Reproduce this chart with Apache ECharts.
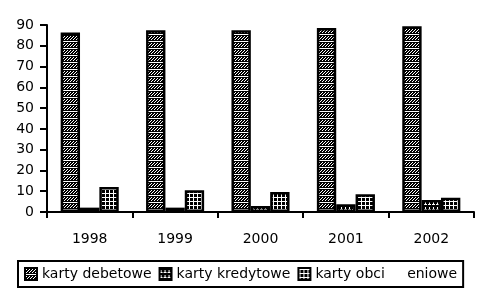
<!DOCTYPE html>
<html><head><meta charset="utf-8">
<script src="https://cdn.jsdelivr.net/npm/echarts@6/dist/echarts.min.js"></script>
<style>html,body{margin:0;padding:0;background:#fff}#c{width:487px;height:297px}</style>
</head><body><div id="c"></div>
<script>
var categories = ['1998', '1999', '2000', '2001', '2002'];
var debetowe = [86.4, 87.5, 87.5, 88.5, 89.4];
var kredytowe = [2.1, 2.1, 2.9, 3.7, 5.8];
var obciazeniowe = [12.0, 10.5, 9.6, 8.5, 6.9];
var seriesNames = ['karty debetowe', 'karty kredytowe', 'karty obci     eniowe'];
var yTicks = { min: 0, max: 90, interval: 10 };

function makeTile(w, h, draw) {
  var c = document.createElement('canvas');
  c.width = w; c.height = h;
  var g = c.getContext('2d');
  g.fillStyle = '#000'; g.fillRect(0, 0, w, h);
  g.fillStyle = '#fff';
  draw(g);
  return { image: c, repeat: 'repeat' };
}
// diagonal hatch rows separated by horizontal lines
var patDebet = makeTile(6, 7, function (g) {
  g.fillRect(0, 6, 6, 1);
  g.fillRect(4, 1, 1, 1); g.fillRect(3, 2, 1, 1); g.fillRect(2, 3, 1, 1); g.fillRect(1, 4, 1, 1);
  g.fillRect(1, 1, 1, 1); g.fillRect(0, 2, 1, 1); g.fillRect(5, 3, 1, 1); g.fillRect(4, 4, 1, 1);
});
var patKredyt = makeTile(4, 5, function (g) {
  g.fillRect(0, 4, 3, 1);
  g.fillRect(1, 2, 1, 2);
});
var patObci = makeTile(4, 4, function (g) {
  g.fillRect(0, 1, 4, 1);
  g.fillRect(1, 0, 1, 4);
});

var font = 'DejaVu Sans';
var chart = echarts.init(document.getElementById('c'), null, { renderer: 'canvas' });
function barSeries(name, data, pat) {
  return {
    name: name, type: 'bar', data: data, barGap: '0%', barCategoryGap: '32%',
    itemStyle: { color: pat, borderColor: '#000', borderWidth: 2.5 },
    emphasis: { disabled: true }
  };
}
chart.setOption({
  animation: false,
  textStyle: { fontFamily: font },
  grid: { left: 47, right: 13, top: 25, bottom: 85, containLabel: false },
  xAxis: {
    type: 'category', data: categories,
    axisLine: { lineStyle: { color: '#000', width: 2 } },
    axisTick: { show: true, length: 6, lineStyle: { color: '#000', width: 2 } },
    axisLabel: { color: '#000', fontSize: 14, fontFamily: font, margin: 20 },
    splitLine: { show: false }
  },
  yAxis: {
    type: 'value', min: yTicks.min, max: yTicks.max, interval: yTicks.interval,
    axisLine: { show: true, lineStyle: { color: '#000', width: 2 } },
    axisTick: { show: true, length: 7, lineStyle: { color: '#000', width: 2 } },
    axisLabel: { color: '#000', fontSize: 14, fontFamily: font, margin: 13 },
    splitLine: { show: false }
  },
  legend: {
    data: seriesNames,
    left: 18, top: 261,
    padding: [6, 6, 6, 6],
    itemWidth: 12, itemHeight: 12, itemGap: 7,
    borderColor: '#000', borderWidth: 2, borderRadius: 0,
    icon: 'rect',
    textStyle: { color: '#000', fontSize: 14, fontFamily: font },
    selectedMode: false
  },
  series: [
    barSeries(seriesNames[0], debetowe, patDebet),
    barSeries(seriesNames[1], kredytowe, patKredyt),
    barSeries(seriesNames[2], obciazeniowe, patObci)
  ]
});
</script></body></html>
